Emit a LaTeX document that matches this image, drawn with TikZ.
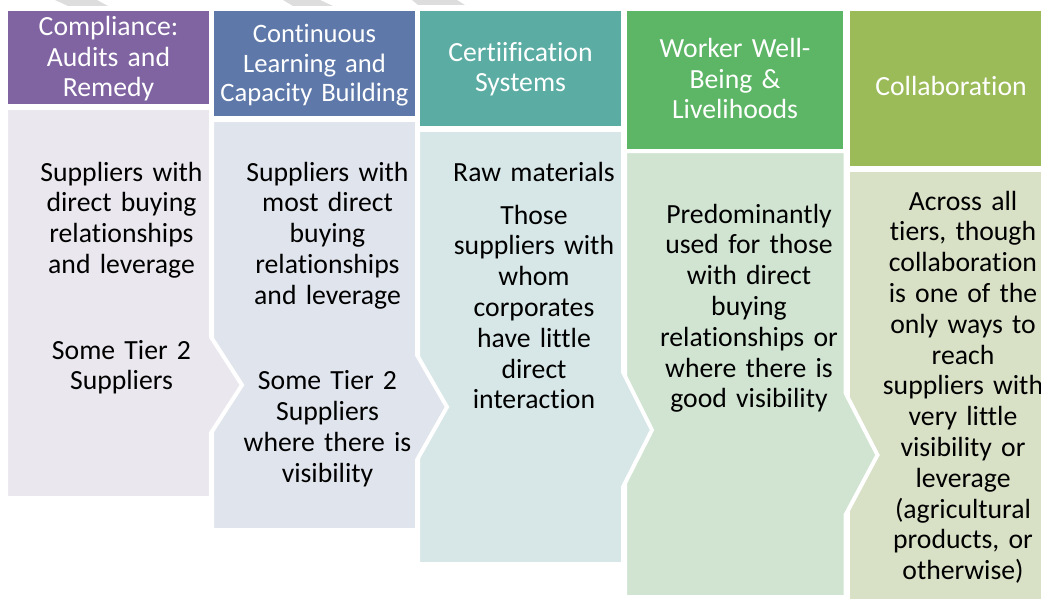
\documentclass[tikz,border=0pt]{standalone}
\usepackage{fontspec}
\setmainfont{Carlito}[Ligatures={NoCommon,NoRare,NoContextual},RawFeature={-liga;-dlig;-clig}]
\definecolor{hA}{HTML}{8064A2}
\definecolor{hB}{HTML}{5E79A9}
\definecolor{hC}{HTML}{5BADA4}
\definecolor{hD}{HTML}{5DB566}
\definecolor{hE}{HTML}{9BBB59}
\definecolor{bA}{HTML}{EAE8EE}
\definecolor{bB}{HTML}{E0E4EC}
\definecolor{bC}{HTML}{D7E6E6}
\definecolor{bD}{HTML}{D0E4D1}
\definecolor{bE}{HTML}{D8E0C6}
\definecolor{wm}{HTML}{DDDDDD}
\begin{document}
\begin{tikzpicture}[x=1pt,y=-1pt,
  hdrtxt/.style={text=white,font=\fontsize{27.7}{30.5}\selectfont,align=center,anchor=base,inner sep=0pt,text width=230pt},
  bodytxt/.style={text=black,font=\fontsize{27.7}{30.8}\selectfont,align=center,anchor=base,inner sep=0pt,text width=230pt},
  bodyshape/.style={draw=white,line width=4pt,line join=miter}]
\useasboundingbox (0,0) rectangle (1041,599);
\clip (0,0) rectangle (1041,599);
% faint marks at the top
\fill[wm] (55,0) -- (97,0) -- (108,6) -- (68,6) -- cycle;
\fill[wm] (283,0) -- (320,0) -- (333,6) -- (293,6) -- cycle;
\fill[wm] (412,0) -- (457,0) -- (465,5) -- (418,5) -- cycle;
% headers
\fill[hA] (8,11) rectangle (209,104);
\fill[hB] (214,11) rectangle (415,116);
\fill[hC] (420,11) rectangle (621,126);
\fill[hD] (627,11) rectangle (843,149);
\fill[hE] (850,11) rectangle (1050,166);
% bodies, drawn right to left so each chevron lies over its neighbour
\path[bodyshape,fill=bE] (848,170) -- (1052,170) -- (1052,610) -- (848,610) -- cycle;
\path[bodyshape,fill=bD] (625,151) -- (845.5,151) -- (845.5,393) -- (877.5,455) -- (845.5,515) -- (845.5,597) -- (625,597) -- cycle;
\path[bodyshape,fill=bC] (418,130) -- (623,130) -- (623,372) -- (652,430) -- (623,487) -- (623,564) -- (418,564) -- cycle;
\path[bodyshape,fill=bB] (212,120) -- (417,120) -- (417,355) -- (447,407) -- (417,460) -- (417,530) -- (212,530) -- cycle;
\path[bodyshape,fill=bA] (6,108) -- (211,108) -- (211,337) -- (242,385) -- (211,433) -- (211,498) -- (6,498) -- cycle;
% header texts
\node[hdrtxt] (tA) at (108.5,36) {Compliance:\\Audits and\\Remedy};
\node[hdrtxt,font=\fontsize{26.6}{29.3}\selectfont] (tB) at (314.5,43) {Continuous\\Learning and\\Capacity Building};
\node[hdrtxt] (tC) at (520.5,61.5) {Certiification\\Systems};
\node[hdrtxt] (tD) at (735,58) {Worker Well-\\Being \&\\Livelihoods};
\node[hdrtxt] (tE) at (951,96) {Collaboration};
% body texts
\node[bodytxt] (sA) at (121.5,181) {Suppliers with\\direct buying\\relationships\\and leverage\\[54.8pt]Some Tier 2\\Suppliers};
\node[bodytxt] (sB) at (327.5,181) {Suppliers with\\most direct\\buying\\relationships\\and leverage\\[54.8pt]Some Tier 2\\Suppliers\\where there is\\visibility};
\node[bodytxt] (sC) at (534,181) {Raw materials\\[12.2pt]Those\\suppliers with\\whom\\corporates\\have little\\direct\\interaction};
\node[bodytxt] (sD) at (749,223) {Predominantly\\used for those\\with direct\\buying\\relationships or\\where there is\\good visibility};
\node[bodytxt] (sE) at (963,210) {Across all\\tiers, though\\collaboration\\is one of the\\only ways to\\reach\\suppliers with\\very little\\visibility or\\leverage\\(agricultural\\products, or\\otherwise)};
\end{tikzpicture}
\end{document}
